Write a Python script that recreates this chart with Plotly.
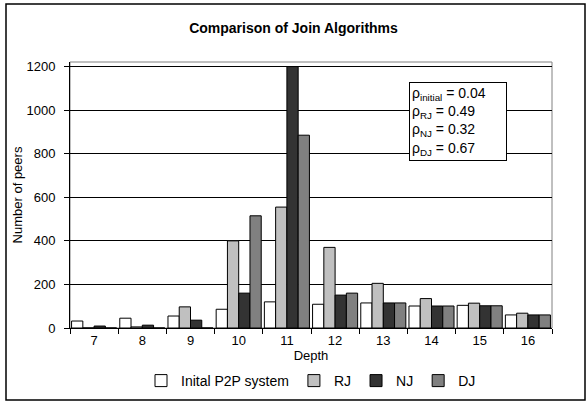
import plotly.graph_objects as go

depth = ["7", "8", "9", "10", "11", "12", "13", "14", "15", "16"]
initial = [32, 45, 55, 86, 120, 109, 115, 101, 104, 60]
rj = [0, 5, 97, 400, 555, 370, 205, 135, 114, 68]
nj = [9, 13, 36, 160, 1200, 151, 115, 101, 102, 60]
dj = [0, 0, 0, 515, 885, 160, 115, 101, 102, 60]
series_names = ["Inital P2P system", "RJ", "NJ", "DJ"]
series_colors = ["#FFFFFF", "#C0C0C0", "#333333", "#808080"]
rho_labels = ["initial", "RJ", "NJ", "DJ"]
rho_values = ["0.04", "0.49", "0.32", "0.67"]

FONT = "Liberation Sans, Arial, sans-serif"

fig = go.Figure()
for name, vals, col in zip(series_names, [initial, rj, nj, dj], series_colors):
    fig.add_trace(go.Bar(
        x=depth, y=vals, name=name,
        marker=dict(color=col, line=dict(color="#000000", width=1)),
    ))

L, R, T, B = 70, 35, 62, 75
W, H = 587, 403
pw, ph = W - L - R, H - T - B

def px_x(x):
    return (x - L) / pw

def px_y(y):
    return (H - B - y) / ph

box_text = "<br>".join(
    f"ρ<sub>{lab}</sub> = {v}" for lab, v in zip(rho_labels, rho_values)
)

fig.update_layout(
    width=W, height=H,
    margin=dict(l=L, r=R, t=T, b=B, autoexpand=False),
    paper_bgcolor="white", plot_bgcolor="white",
    font=dict(family=FONT, size=13, color="#000000"),
    title=dict(text="<b>Comparison of Join Algorithms</b>", x=0.5, xanchor="center",
               y=1 - 28 / H, yanchor="middle", font=dict(size=14)),
    barmode="group", bargap=0.065, bargroupgap=0,
    showlegend=True,
    legend=dict(orientation="h", x=0.5, xanchor="center", yref="container",
                y=1 - 381 / H, yanchor="middle",
                font=dict(size=14), itemwidth=30, traceorder="normal"),
    xaxis=dict(
        type="category", showline=True, linecolor="#000000", linewidth=1,
        ticks="outside", ticklen=5, tickcolor="#000000", tickson="boundaries",
        showgrid=False, tickfont=dict(size=13), automargin=False,
        title=dict(text="Depth", standoff=0, font=dict(size=13)),
    ),
    yaxis=dict(
        range=[0, 1221], tickvals=[0, 200, 400, 600, 800, 1000, 1200],
        showline=True, linecolor="#000000", linewidth=1,
        ticks="outside", ticklen=5, tickcolor="#000000", ticklabelstandoff=6,
        showgrid=True, gridcolor="#000000", gridwidth=1, zeroline=False,
        tickfont=dict(size=13), automargin=False,
        title=dict(text="Number of peers", standoff=0, font=dict(size=13)),
    ),
    shapes=[
        dict(type="rect", xref="paper", yref="paper", x0=0, x1=1, y0=0, y1=1,
             line=dict(color="#808080", width=1), layer="below"),
        dict(type="rect", xref="paper", yref="paper",
             x0=px_x(6), x1=px_x(585), y0=px_y(400), y1=px_y(4),
             line=dict(color="#000000", width=1.5)),
    ],
    annotations=[
        dict(text=box_text, xref="paper", yref="paper", x=px_x(409), y=px_y(82),
             xanchor="left", yanchor="top", align="left", showarrow=False,
             width=92, valign="middle",
             bgcolor="white", bordercolor="#000000", borderwidth=1, borderpad=2,
             font=dict(size=14)),
    ],
)

fig.write_html("out.html", config={"displayModeBar": False},
               post_script="document.body.style.margin='0';document.body.style.overflow='hidden';")
